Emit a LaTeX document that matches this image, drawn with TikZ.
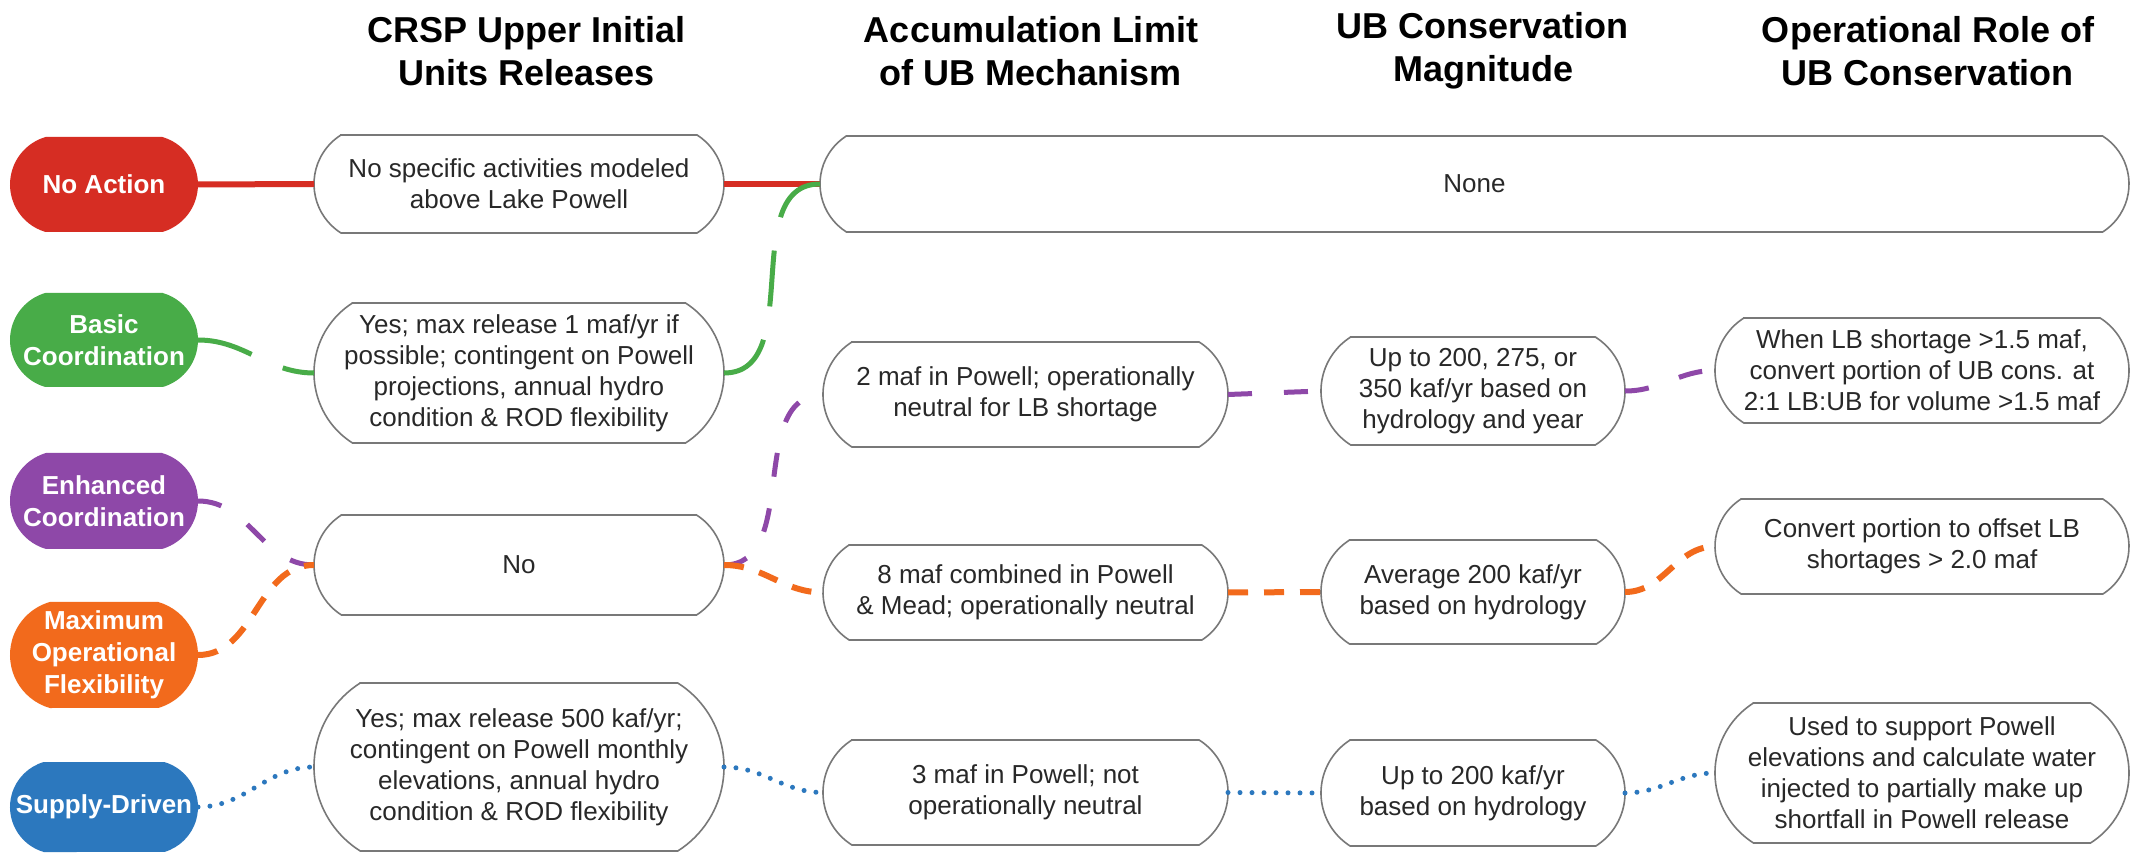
\documentclass[tikz,border=0pt]{standalone}
\usepackage{fontspec}
\setmainfont{Liberation Sans}
\definecolor{cred}{RGB}{214,45,35}
\definecolor{cgreen}{RGB}{72,172,72}
\definecolor{cpurple}{RGB}{142,72,168}
\definecolor{corange}{RGB}{242,106,28}
\definecolor{cblue}{RGB}{44,120,190}
\definecolor{cline}{RGB}{120,120,120}
\definecolor{ctext}{RGB}{40,40,40}
% terminator shape + named node: name, x1, y1, x2, y2, bulge ratio, path style, node style, text
\newcommand\term[9]{%
  \pgfmathsetmacro\tmH{(#5-#3)/2}%
  \pgfmathsetmacro\tmB{#6*\tmH}%
  \pgfmathsetmacro\tmR{(\tmH*\tmH+\tmB*\tmB)/(2*\tmB)}%
  \pgfmathsetmacro\tmP{atan(\tmH/(\tmR-\tmB))}%
  \path[#7] (#2+\tmB,#3) -- (#4-\tmB,#3)
     arc[start angle=-\tmP, end angle=\tmP, radius=\tmR]
     -- (#2+\tmB,#5)
     arc[start angle=180-\tmP, end angle=180+\tmP, radius=\tmR] -- cycle;
  \node[inner sep=0pt, outer sep=0pt, minimum width={(#4-#2)*0.5pt}, minimum height={(#5-#3)*0.5pt}, align=center, #8] (#1) at ({(#2+#4)/2},{(#3+#5)/2}) {#9};%
}
\begin{document}
\begin{tikzpicture}[x=0.5pt,y=-0.5pt,
  pillpath/.style={fill=#1},
  pilltext/.style={text=white, font=\bfseries\fontsize{13}{16}\selectfont},
  boxpath/.style={fill=white, draw=cline, line width=0.8pt},
  boxtext/.style={text=ctext, font=\fontsize{13}{15.5}\selectfont},
  header/.style={align=center, inner sep=0pt, font=\bfseries\fontsize{18}{21.5}\selectfont, text=black},
  redline/.style={draw=cred, line width=3pt},
  greenline/.style={draw=cgreen, line width=2.5pt, dash pattern=on 28pt off 17pt},
  purpleline/.style={draw=cpurple, line width=2.5pt, dash pattern=on 12pt off 16pt},
  orangeline/.style={draw=corange, line width=3pt, dash pattern=on 10pt off 8pt},
  blueline/.style={draw=cblue, line width=2.5pt, line cap=round, dash pattern=on 0pt off 6pt}
]
\useasboundingbox[fill=white] (0,0) rectangle (2133,855);

% headers
\node[header] (h1) at (527,51) {CRSP Upper Initial\\Units Releases};
\node[header] (h2) at (1031,51) {Accumulation Limit\\of UB Mechanism};
\node[header] (h3) at (1483,51) {UB Conservation\\Magnitude};
\node[header] (h4) at (1928,51) {Operational Role of\\UB Conservation};

% alternatives
\term{na}{10}{137}{198}{232}{0.75}{pillpath=cred}{pilltext}{No Action}
\term{bc}{10}{293}{198}{387}{0.75}{pillpath=cgreen}{pilltext}{Basic\\Coordination}
\term{ec}{10}{453}{198}{549}{0.75}{pillpath=cpurple}{pilltext}{Enhanced\\Coordination}
\term{mo}{10}{602}{198}{708}{0.75}{pillpath=corange}{pilltext}{Maximum\\Operational\\Flexibility}
\term{sd}{10}{762}{198}{852}{0.75}{pillpath=cblue}{pilltext}{Supply-Driven}

% column 1
\term{c1a}{314}{135}{724}{233}{0.55}{boxpath}{boxtext}{No specific activities modeled\\above Lake Powell}
\term{c1b}{314}{303}{724}{443}{0.55}{boxpath}{boxtext}{Yes; max release 1 maf/yr if\\possible; contingent on Powell\\projections, annual hydro\\condition \& ROD flexibility}
\term{c1c}{314}{515}{724}{615}{0.55}{boxpath}{boxtext}{No}
\term{c1d}{314}{683}{724}{851}{0.55}{boxpath}{boxtext}{Yes; max release 500 kaf/yr;\\contingent on Powell monthly\\elevations, annual hydro\\condition \& ROD flexibility}

% none
\term{none}{820}{136}{2129}{232}{0.55}{boxpath}{boxtext}{None}

% column 2
\term{c2a}{823}{342}{1228}{447}{0.55}{boxpath}{boxtext}{2 maf in Powell; operationally\\neutral for LB shortage}
\term{c2b}{823}{545}{1228}{640}{0.55}{boxpath}{boxtext}{8 maf combined in Powell\\\& Mead; operationally neutral}
\term{c2c}{823}{740}{1228}{845}{0.55}{boxpath}{boxtext}{3 maf in Powell; not\\operationally neutral}

% column 3
\term{c3a}{1321}{337}{1625}{445}{0.55}{boxpath}{boxtext}{Up to 200, 275, or\\350 kaf/yr based on\\hydrology and year}
\term{c3b}{1321}{540}{1625}{644}{0.55}{boxpath}{boxtext}{Average 200 kaf/yr\\based on hydrology}
\term{c3c}{1321}{740}{1625}{846}{0.55}{boxpath}{boxtext}{Up to 200 kaf/yr\\based on hydrology}

% column 4
\term{c4a}{1715}{318}{2129}{423}{0.55}{boxpath}{boxtext}{When LB shortage >1.5 maf,\\convert portion of UB cons. at\\2:1 LB:UB for volume >1.5 maf}
\term{c4b}{1715}{499}{2129}{594}{0.55}{boxpath}{boxtext}{Convert portion to offset LB\\shortages > 2.0 maf}
\term{c4c}{1715}{703}{2129}{843}{0.55}{boxpath}{boxtext}{Used to support Powell\\elevations and calculate water\\injected to partially make up\\shortfall in Powell release}

% connectors
\draw[redline] (na.east) -- (c1a.west);
\draw[redline] (c1a.east) -- (none.west);

\draw[greenline] (bc.east) to[out=0,in=180] (c1b.west);
\draw[greenline] (c1b.east) to[out=0,in=180] (none.west);

\draw[purpleline] (ec.east) to[out=0,in=180] (c1c.west);
\draw[purpleline] (c1c.east) to[out=0,in=180] (c2a.west);
\draw[purpleline] (c2a.east) -- (c3a.west);
\draw[purpleline] (c3a.east) to[out=0,in=180] (c4a.west);

\draw[orangeline] (mo.east) to[out=0,in=180] (c1c.west);
\draw[orangeline] (c1c.east) to[out=0,in=180] (c2b.west);
\draw[orangeline] (c2b.east) -- (c3b.west);
\draw[orangeline] (c3b.east) to[out=0,in=180] (c4b.west);

\draw[blueline] (sd.east) to[out=0,in=180] (c1d.west);
\draw[blueline] (c1d.east) to[out=0,in=180] (c2c.west);
\draw[blueline] (c2c.east) -- (c3c.west);
\draw[blueline] (c3c.east) to[out=0,in=180] (c4c.west);
\end{tikzpicture}
\end{document}
